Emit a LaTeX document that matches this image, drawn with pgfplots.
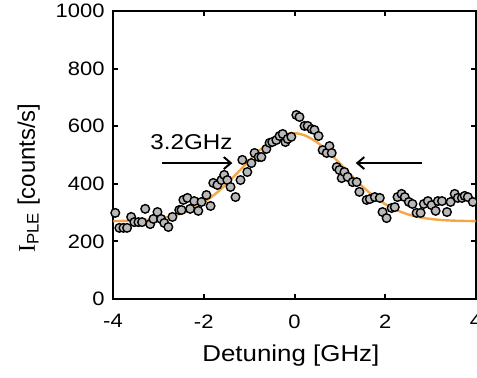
\documentclass[border=0pt]{standalone}
\usepackage{pgfplots}
\pgfplotsset{compat=1.18}
\usepackage{fontspec}
\setmainfont[FakeStretch=1.13]{Liberation Sans}
\newfontfamily\plainsans{Liberation Sans}
\newfontfamily\seriffont{Liberation Serif}
\usetikzlibrary{arrows.meta}
\definecolor{fitorange}{RGB}{245,150,35}
\definecolor{ptgray}{RGB}{185,185,185}
\begin{document}
\begin{tikzpicture}
\begin{axis}[
  scale only axis,
  width=363bp, height=288bp,
  xmin=-4, xmax=4, ymin=0, ymax=1000,
  xtick={-4,-2,0,2,4}, xticklabels={-4,-2,0,2,4},
  ytick={0,200,400,600,800,1000}, yticklabels={0,200,400,600,800,1000},
  tick align=inside,
  major tick length=5bp,
  axis line style={line width=2.6bp},
  every tick/.style={line width=2bp, black},
  ticklabel style={font=\fontsize{19.5}{22}\selectfont},
  xticklabel style={yshift=-12bp},
  yticklabel style={xshift=-5bp},
  xlabel={Detuning [GHz]},
  xlabel style={font=\fontsize{23}{26}\selectfont, at={(rel axis cs:0.49,0)}, anchor=north, yshift=-42bp},
  ylabel={{\seriffont I}\textsubscript{PLE} [counts/s]},
  ylabel style={font=\plainsans\fontsize{24}{26}\selectfont, at={(rel axis cs:-0.232,0.42)}, anchor=center},
  clip=true,
]
\addplot[only marks, mark=*, mark size=4.3bp, mark options={draw=black, fill=ptgray, line width=1.4bp}] coordinates {
(-3.95,299) (-3.86,247) (-3.77,247) (-3.69,247) (-3.60,285) (-3.53,267) (-3.44,267) (-3.36,267)
(-3.29,313) (-3.18,260) (-3.11,278) (-3.02,302) (-2.94,278) (-2.87,264) (-2.78,250) (-2.69,285)
(-2.54,309) (-2.49,309) (-2.45,344) (-2.36,351) (-2.30,313) (-2.21,340) (-2.12,306) (-2.05,337)
(-1.94,361) (-1.85,323) (-1.79,403) (-1.70,396) (-1.61,413) (-1.55,431) (-1.48,413) (-1.41,389)
(-1.30,354) (-1.19,413) (-1.15,483) (-1.04,441) (-0.95,472) (-0.88,507) (-0.79,493) (-0.73,493)
(-0.62,521) (-0.55,542) (-0.49,545) (-0.40,552) (-0.33,566) (-0.26,573) (-0.20,545) (-0.15,556)
(-0.07,563) (0.04,639) (0.11,632) (0.22,601) (0.29,601) (0.38,590) (0.44,587) (0.53,566)
(0.62,517) (0.71,507) (0.77,531) (0.82,507) (0.93,458) (0.99,448) (1.04,420) (1.10,441)
(1.17,424) (1.28,406) (1.37,406) (1.43,372) (1.59,344) (1.66,347) (1.77,354) (1.88,351)
(1.94,302) (2.03,281) (2.14,316) (2.21,319) (2.27,354) (2.36,365) (2.43,354) (2.52,337)
(2.60,330) (2.69,299) (2.78,299) (2.85,330) (2.94,340) (3.02,326) (3.11,306) (3.16,340)
(3.25,340) (3.36,302) (3.44,337) (3.53,365) (3.60,351) (3.69,351) (3.75,358) (3.82,354)
(3.93,337)
};
\addplot[fitorange, line width=2.4bp, smooth, opacity=0.85] coordinates {
(-4,270.6) (-3.75,271.2) (-3.5,272.5) (-3.25,274.9) (-3,279.1) (-2.75,286.0) (-2.5,296.9)
(-2.25,312.9) (-2,335.1) (-1.75,364.1) (-1.5,399.3) (-1.25,439.1) (-1,480.3) (-0.75,518.9)
(-0.5,550.2) (-0.25,570.2) (0,575.9) (0.25,566.6) (0.5,543.6) (0.75,510.1) (1,470.5)
(1.25,429.3) (1.5,390.4) (1.75,356.5) (2,329.2) (2.25,308.5) (2.5,293.9) (2.75,284.1)
(3,277.9) (3.25,274.2) (3.5,272.1) (3.75,271.0) (4,270.5)
};
\draw[line width=2bp, -{Straight Barb[length=7bp, width=12bp, line width=2bp]}] (axis cs:-2.91,472) -- (axis cs:-1.37,472);
\draw[line width=2bp, -{Straight Barb[length=7bp, width=12bp, line width=2bp]}] (axis cs:2.82,472) -- (axis cs:1.35,472);
\node[anchor=west, font=\fontsize{21.5}{26}\selectfont, inner sep=0pt] at (axis cs:-3.18,545) {3.2GHz};
\end{axis}
\pgfresetboundingbox
\path[use as bounding box] ([shift={(-113bp,-78bp)}]current axis.south west) rectangle ([shift={(1bp,11bp)}]current axis.north east);
\end{tikzpicture}
\end{document}
